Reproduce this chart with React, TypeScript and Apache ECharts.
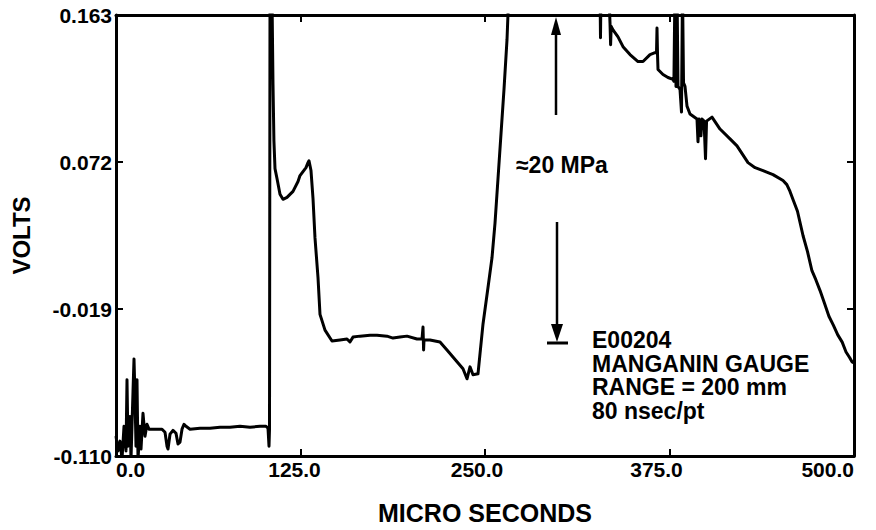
import React, { useEffect, useRef } from "react";
import * as echarts from "echarts";

// Tick values
const xTicks = [0, 125, 250, 375, 500];
const yTicks = [-0.11, -0.019, 0.072, 0.163];

// Trace, read from the scanned record: [micro seconds, volts]
const precursorNoise: [number, number][] = [
  [0, -0.0977], [1.36, -0.1069], [2.71, -0.1008], [4.07, -0.112], [5.42, -0.0916],
  [6.78, -0.1069], [7.45, -0.0628], [8.13, -0.1039], [9.49, -0.0855], [10.16, -0.112],
  [11.52, -0.0701], [12.2, -0.0499], [12.87, -0.0732], [13.55, -0.1039], [14.23, -0.0628],
  [14.91, -0.112], [16.26, -0.0916], [16.94, -0.1057], [18.29, -0.0836], [19.65, -0.0977],
  [21.0, -0.0904], [22.36, -0.0934],
];

const baseline: [number, number][] = [
  [26.42, -0.0934], [31.17, -0.0934], [33.2, -0.0953], [34.55, -0.1039], [35.23, -0.1057],
  [36.59, -0.0965], [38.62, -0.0941], [40.65, -0.0959], [42.01, -0.1026], [43.36, -0.1014],
  [44.72, -0.0934], [46.07, -0.0904], [47.43, -0.0916], [50.14, -0.0934], [56.91, -0.0928],
  [63.69, -0.0928], [70.46, -0.0922], [77.24, -0.0922], [84.01, -0.0916], [90.79, -0.0922],
  [97.56, -0.0916], [101.63, -0.0916], [102.98, -0.0928], [103.66, -0.1039], [104.0, -0.0934],
];

const firstPeak: [number, number][] = [
  [104.34, 0.18], [105.01, 0.18], [105.69, 0.175], [106.37, 0.12], [107.0, 0.085],
  [107.72, 0.0679], [109.08, 0.0618], [111.11, 0.052], [113.14, 0.0489], [115.85, 0.0501],
  [119.92, 0.0538], [123.31, 0.0599], [124.66, 0.0636], [126.69, 0.0661], [128.73, 0.0685],
  [130.08, 0.0716], [130.76, 0.0728], [132.11, 0.0667], [133.47, 0.0495],
];

const plateau: [number, number][] = [
  [134.82, 0.025], [136.86, 0.0004], [138.21, -0.0223], [141.6, -0.0321], [146.34, -0.0388],
  [151.76, -0.0382], [156.5, -0.0376], [158.5, -0.0394], [160.57, -0.0364], [165.31, -0.0358],
  [172.09, -0.0352], [176.83, -0.0352], [183.6, -0.0358], [187.67, -0.037], [192.41, -0.0364],
  [197.15, -0.0358], [203.93, -0.0376], [207.32, -0.0376], [208.0, -0.0302], [208.4, -0.0444],
  [208.67, -0.0382], [212.74, -0.0382], [219.51, -0.0394], [224.25, -0.0444], [231.03, -0.0517],
  [235.09, -0.056], [237.8, -0.0622], [239.84, -0.0548], [241.87, -0.0597], [245.26, -0.0591],
  [246.61, -0.0468], [248.64, -0.0284], [252.03, -0.0057], [254.74, 0.0127], [256.78, 0.0342],
  [258.81, 0.0618], [260.84, 0.0894], [262.87, 0.117], [264.91, 0.1477], [266.26, 0.18],
];

const offScale: [number, number][] = [
  [300, 0.185], [327.9, 0.18], [328.25, 0.1489], [328.6, 0.18], [334.0, 0.175],
];

const decay: [number, number][] = [
  [334.69, 0.1581], [335.1, 0.1446], [335.5, 0.156], [336.72, 0.1538], [340.11, 0.1495],
  [343.5, 0.1434], [348.24, 0.1385], [353.66, 0.1342], [357.05, 0.1342], [361.79, 0.1385],
  [365.18, 0.1397], [366.2, 0.1397], [366.53, 0.155], [366.9, 0.138], [367.21, 0.1293],
  [370.6, 0.1262], [373.98, 0.1243], [377.37, 0.1231], [378.0, 0.122], [378.7, 0.18],
  [379.4, 0.1188], [380.08, 0.18], [380.76, 0.1188], [382.11, 0.117], [383.13, 0.1029],
  [383.8, 0.18], [384.5, 0.121], [385.5, 0.1188], [386.86, 0.1066], [388.89, 0.1017],
  [393.63, 0.0986], [394.3, 0.0845], [395.0, 0.0986], [396.3, 0.0882], [397.0, 0.0986],
  [398.4, 0.0973], [399.4, 0.074], [400.1, 0.0973], [403.79, 0.0998], [409.21, 0.0924],
  [415.99, 0.0863], [420.73, 0.082], [428.18, 0.0716], [433.0, 0.0685], [438.35, 0.0667],
  [445.12, 0.0642], [451.9, 0.0605], [454.5, 0.058], [456.64, 0.0538], [459.0, 0.048],
  [461.7, 0.0415], [465.45, 0.0265], [468.5, 0.0165], [471.5, 0.0047], [474.2, -0.001],
  [477.0, -0.0076], [480.0, -0.0155], [483.0, -0.0235], [486.0, -0.029], [489.0, -0.035],
  [492.0, -0.0395], [494.6, -0.0456], [497.0, -0.049], [498.64, -0.0517], [500, -0.0523],
];

const trace = [...precursorNoise, ...baseline, ...firstPeak, ...plateau, ...offScale, ...decay];

const pressureLabel = "≈20 MPa";
const gaugeLines = ["E00204", "MANGANIN GAUGE", "RANGE = 200 mm", "80 nsec/pt"];

const FONT = "'Liberation Sans', Arial, Helvetica, sans-serif";
const INK = "#000";

export default function App() {
  const ref = useRef<HTMLDivElement>(null);

  useEffect(() => {
    if (!ref.current) return;
    const chart = echarts.init(ref.current, undefined, { renderer: "svg" });

    const axisLine = { show: true, onZero: false, lineStyle: { color: INK, width: 3 } };
    const tickStyle = { color: INK, width: 2 };
    const labelFont = { fontFamily: FONT, fontWeight: "bold", fontSize: 21, color: INK };

    const option: any = {
      animation: false,
      backgroundColor: "#fff",
      grid: { left: 116, right: 22, top: 15, bottom: 70, containLabel: false },
      xAxis: [
        {
          type: "value",
          min: xTicks[0],
          max: xTicks[xTicks.length - 1],
          interval: 125,
          position: "bottom",
          name: "MICRO SECONDS",
          nameLocation: "middle",
          nameGap: 44,
          nameTextStyle: { fontFamily: FONT, fontWeight: "bold", fontSize: 25, color: INK },
          axisLine,
          axisTick: { show: true, inside: true, length: 7, lineStyle: tickStyle },
          axisLabel: {
            show: true,
            formatter: (v: number) => {
              const s = v.toFixed(1);
              if (v === 125) return `{a|${s}}`;
              if (v === 250) return `{b|${s}}`;
              if (v === 375) return `{c|${s}}`;
              return s;
            },
            ...labelFont,
            margin: 3,
            alignMinLabel: "left",
            alignMaxLabel: "right",
            rich: {
              a: { ...labelFont, padding: [0, 12, 0, 0] },
              b: { ...labelFont, padding: [0, 16, 0, 0] },
              c: { ...labelFont, padding: [0, 26, 0, 0] },
            },
          },
          splitLine: { show: false },
        },
        {
          type: "value",
          min: xTicks[0],
          max: xTicks[xTicks.length - 1],
          interval: 125,
          position: "top",
          axisLine,
          axisTick: { show: true, inside: true, length: 7, lineStyle: tickStyle },
          axisLabel: { show: false },
          splitLine: { show: false },
        },
      ],
      yAxis: [
        {
          type: "value",
          min: yTicks[0],
          max: yTicks[yTicks.length - 1],
          position: "left",
          name: "VOLTS",
          nameLocation: "middle",
          nameRotate: 90,
          nameGap: 83,
          nameTextStyle: { fontFamily: FONT, fontWeight: "bold", fontSize: 24, color: INK },
          axisLine,
          axisTick: { show: true, inside: true, length: 7, lineStyle: tickStyle, customValues: yTicks },
          axisLabel: {
            show: true,
            customValues: yTicks,
            formatter: (v: number) => v.toFixed(3),
            ...labelFont,
            margin: 4,
          },
          splitLine: { show: false },
        },
        {
          type: "value",
          min: yTicks[0],
          max: yTicks[yTicks.length - 1],
          position: "right",
          axisLine,
          axisTick: { show: true, inside: true, length: 7, lineStyle: tickStyle, customValues: yTicks },
          axisLabel: { show: false, customValues: yTicks },
          splitLine: { show: false },
        },
      ],
      series: [
        {
          type: "line",
          data: trace,
          xAxisIndex: 0,
          yAxisIndex: 0,
          showSymbol: false,
          symbol: "none",
          clip: true,
          silent: true,
          lineStyle: { color: INK, width: 3, join: "round" },
        },
      ],
      graphic: [
        { type: "line", shape: { x1: 556, y1: 32, x2: 556, y2: 115 }, style: { stroke: INK, lineWidth: 2.5 } },
        { type: "polygon", shape: { points: [[556, 17], [551, 35], [561, 35]] }, style: { fill: INK } },
        { type: "line", shape: { x1: 557, y1: 222, x2: 557, y2: 328 }, style: { stroke: INK, lineWidth: 2.5 } },
        { type: "polygon", shape: { points: [[551, 324], [563, 324], [557, 342]] }, style: { fill: INK } },
        { type: "line", shape: { x1: 547, y1: 343, x2: 568, y2: 343 }, style: { stroke: INK, lineWidth: 3 } },
        {
          type: "text",
          x: 516,
          y: 165,
          style: {
            text: pressureLabel,
            fontFamily: FONT,
            fontWeight: "bold",
            fontSize: 23,
            fill: INK,
            verticalAlign: "middle",
          },
        },
        ...gaugeLines.map((t, i) => ({
          type: "text",
          x: 592,
          y: 340 + i * 23.5,
          style: {
            text: t,
            fontFamily: FONT,
            fontWeight: "bold",
            fontSize: 23,
            fill: INK,
            verticalAlign: "middle",
          },
        })),
      ],
    };

    chart.setOption(option);
    return () => chart.dispose();
  }, []);

  return (
    <div
      ref={ref}
      style={{ position: "fixed", left: 0, top: 0, width: 876, height: 530, background: "#fff" }}
    />
  );
}
